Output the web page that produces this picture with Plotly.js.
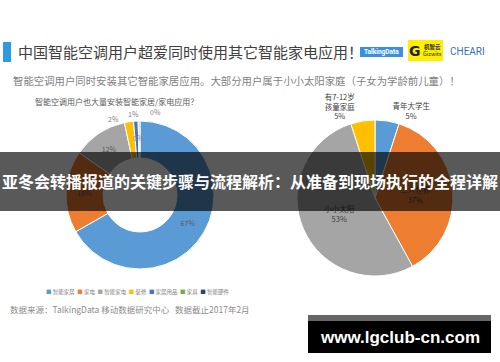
<!DOCTYPE html>
<html><head><meta charset="utf-8">
<script src="https://cdn.plot.ly/plotly-3.0.1.min.js"></script>
<style>html,body{margin:0;padding:0;background:#fff;}#chart{width:500px;height:362px;}</style>
</head><body><div id="chart"></div>
<script>
// Left donut: apps installed by smart AC users (%)
const leftLabels = ["智能家居", "家电", "智能家电", "装修", "家居用品", "家具", "智能硬件"];
const leftValues = [67, 18, 12, 2, 1, 0.2, 0.2];
const leftColors = ["#5b9bd5", "#ed7d31", "#a5a5a5", "#ffc000", "#4472c4", "#70ad47", "#264478"];
// Right pie: family type of users (%)
const rightLabels = ["青年大学生", "二人世界", "小小太阳", "有7-12岁<br>孩童家庭"];
const rightValues = [5, 37, 53, 5];
const rightColors = ["#5b9bd5", "#ed7d31", "#a5a5a5", "#ffc000"];

const FONT = '"Noto Sans CJK SC", "Noto Sans", sans-serif';
const W = 500, H = 362;
const px = x => x / W, py = y => 1 - y / H;
const pct = v => Math.round(v) + '%';

const leftTrace = {
  type: 'pie', labels: leftLabels, values: leftValues, sort: false,
  direction: 'clockwise', rotation: 0, hole: 0.5,
  marker: {colors: leftColors, line: {color: '#fff', width: 1}},
  text: leftValues.map(pct), textinfo: 'text',
  textposition: ['inside', 'inside', 'inside', 'none', 'none', 'none', 'none'],
  insidetextorientation: 'horizontal',
  textfont: {family: FONT, size: 7, color: '#595959'},
  domain: {x: [px(66), px(214)], y: [py(269), py(121)]},
  showlegend: false, hoverinfo: 'label+percent'
};
const rightTrace = {
  type: 'pie', labels: rightLabels, values: rightValues, sort: false,
  direction: 'clockwise', rotation: 0,
  marker: {colors: rightColors, line: {color: '#fff', width: 1}},
  text: rightLabels.map((l, i) => l + '<br>' + rightValues[i] + '%'), textinfo: 'text',
  textposition: ['outside', 'inside', 'inside', 'outside'],
  insidetextorientation: 'horizontal',
  textfont: {family: FONT, size: 7.5, color: '#404040'},
  domain: {x: [px(297), px(453)], y: [py(276), py(120)]},
  showlegend: false, hoverinfo: 'label+percent'
};

const legendText = leftLabels.map((l, i) =>
  '<span style="color:' + leftColors[i] + '">■</span> ' + l).join('  ');

// small-slice label placements (label positions only)
const smallLabelPos = [[113, 119], [133, 114], [155, 112], [138, 138]];
const smallLabels = smallLabelPos.map((p, k) => ({
  text: pct(leftValues[3 + k]), xref: 'paper', yref: 'paper', x: px(p[0]), y: py(p[1]),
  xanchor: 'center', yanchor: 'middle', showarrow: false,
  font: {family: FONT, size: 7, color: '#7f7f7f'}
}));

const layout = {
  width: W, height: H, margin: {l: 0, r: 0, t: 0, b: 0},
  paper_bgcolor: '#fff', plot_bgcolor: '#fff', showlegend: false,
  font: {family: FONT},
  shapes: [
    {type: 'rect', xref: 'paper', yref: 'paper', x0: px(3), x1: px(11), y0: py(62), y1: py(42), fillcolor: '#2e9be0', line: {width: 0}},
    {type: 'rect', xref: 'paper', yref: 'paper', x0: px(360), x1: px(403), y0: py(57), y1: py(47), fillcolor: '#3b8fe0', line: {width: 0}},
    {type: 'rect', xref: 'paper', yref: 'paper', x0: px(408), x1: px(443), y0: py(61), y1: py(40), fillcolor: '#ffef00', line: {width: 0}},
    {type: 'rect', xref: 'paper', yref: 'paper', x0: 0, x1: 1, y0: py(211), y1: py(152), fillcolor: 'rgba(0,0,0,0.65)', line: {width: 0}, layer: 'above'},
    {type: 'rect', xref: 'paper', yref: 'paper', x0: px(308), x1: px(491), y0: py(353), y1: py(321), fillcolor: '#000', line: {width: 0}, layer: 'above'},
    {type: 'rect', xref: 'paper', yref: 'paper', x0: px(308), x1: px(491), y0: py(321), y1: py(315), fillcolor: '#666', line: {width: 0}, layer: 'above'}
  ],
  annotations: smallLabels.concat([
    {text: '中国智能空调用户超爱同时使用其它智能家电应用！', xref: 'paper', yref: 'paper', x: px(16), y: py(52), xanchor: 'left', yanchor: 'middle', showarrow: false, font: {family: FONT, size: 15, color: '#404040'}},
    {text: '<b>TalkingData</b>', xref: 'paper', yref: 'paper', x: px(381.5), y: py(52), xanchor: 'center', yanchor: 'middle', showarrow: false, font: {family: 'Roboto, sans-serif', size: 6.5, color: '#fff'}},
    {text: '<b>机智云</b><br>Gizwits', xref: 'paper', yref: 'paper', x: px(432), y: py(50.5), xanchor: 'center', yanchor: 'middle', showarrow: false, font: {family: FONT, size: 5.5, color: '#222'}},
    {text: '<b>G</b>', xref: 'paper', yref: 'paper', x: px(415), y: py(50.5), xanchor: 'center', yanchor: 'middle', showarrow: false, font: {family: 'DejaVu Sans, sans-serif', size: 14, color: '#222'}},
    {text: 'CHEARI', xref: 'paper', yref: 'paper', x: px(467), y: py(51), xanchor: 'center', yanchor: 'middle', showarrow: false, font: {family: 'Roboto, sans-serif', size: 10, color: '#3a6fb6'}},
    {text: '智能空调用户同时安装其它智能家居应用。大部分用户属于小小太阳家庭（子女为学龄前儿童）！', xref: 'paper', yref: 'paper', x: px(11), y: py(80), xanchor: 'left', yanchor: 'middle', showarrow: false, font: {family: FONT, size: 10.4, color: '#7f7f7f'}},
    {text: '智能空调用户也大量安装智能家居/家电应用？', xref: 'paper', yref: 'paper', x: px(33), y: py(101), xanchor: 'left', yanchor: 'middle', showarrow: false, font: {family: FONT, size: 8, color: '#595959'}},
    {text: legendText, xref: 'paper', yref: 'paper', x: px(138), y: py(292), xanchor: 'center', yanchor: 'middle', showarrow: false, font: {family: FONT, size: 5.5, color: '#7f7f7f'}},
    {text: '数据来源：TalkingData 移动数据研究中心   数据截止2017年2月', xref: 'paper', yref: 'paper', x: px(8), y: py(309), xanchor: 'left', yanchor: 'middle', showarrow: false, font: {family: FONT, size: 8.5, color: '#8c8c8c'}},
    {text: '<b>亚冬会转播报道的关键步骤与流程解析：从准备到现场执行的全程详解</b>', xref: 'paper', yref: 'paper', x: 0.5, y: py(181), xanchor: 'center', yanchor: 'middle', showarrow: false, font: {family: FONT, size: 16, color: '#fff'}},
    {text: '<b>www.lgclub-cn.com</b>', xref: 'paper', yref: 'paper', x: px(399.5), y: py(337), xanchor: 'center', yanchor: 'middle', showarrow: false, font: {family: '"Liberation Sans", Arial, sans-serif', size: 17, color: '#fff'}}
  ])
};
Plotly.newPlot('chart', [leftTrace, rightTrace], layout, {displayModeBar: false, staticPlot: true});
</script></body></html>
